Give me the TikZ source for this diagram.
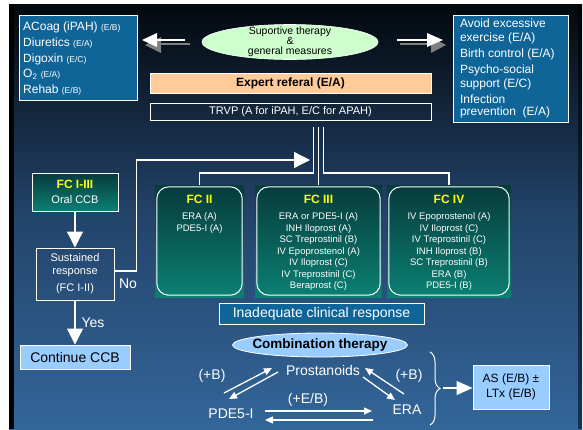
\documentclass[tikz,border=0pt]{standalone}
\usepackage{fontspec}
\setmainfont{Liberation Sans}
\usetikzlibrary{arrows.meta,shapes.geometric,decorations.pathreplacing}
\definecolor{boxblue}{HTML}{0F6498}
\definecolor{lightblue}{HTML}{99CCFF}
\definecolor{peach}{HTML}{FFCC99}
\definecolor{mint}{HTML}{CCFFCC}
\definecolor{fctop}{HTML}{073B3C}
\definecolor{fcbot}{HTML}{0B8073}
\definecolor{bgtop}{HTML}{03080D}
\definecolor{bgmid}{HTML}{23446B}
\definecolor{bgbot}{HTML}{336699}
\definecolor{fcyellow}{HTML}{FFFF00}
\definecolor{shadowgrey}{HTML}{7F7F7F}
\begin{document}
\begin{tikzpicture}[x=1pt,y=-1pt,
  bluebox/.style={draw=white, line width=1pt, fill=boxblue, text=white, inner sep=0pt, align=left},
  conn/.style={draw=white, line width=1.3pt},
  bigtip/.style={-{Triangle[length=16pt,width=16pt]}},
  pairarrow/.style={draw=white, line width=1.3pt, -{Triangle[length=8pt,width=7pt]}},
  fcbox/.style={top color=fctop, bottom color=fcbot, draw=none, inner sep=0pt},
  fcinner/.style={draw=white, line width=1pt, rounded corners=12pt},
  fctitle/.style={text=fcyellow, font=\bfseries\fontsize{12}{14}\selectfont, inner sep=0pt},
  fcitems/.style={text=white, font=\fontsize{9.5}{11.5}\selectfont, align=center, inner sep=0pt},
  wlabel/.style={text=white, font=\fontsize{14}{16}\selectfont, inner sep=0pt},
  careline/.style={text=white, font=\fontsize{12}{14}\selectfont, inner sep=0pt, anchor=west}
]
\fill[white] (0,0) rectangle (583,429);
\useasboundingbox (0,0) rectangle (583,429);
\shade[top color=bgtop, bottom color=bgbot, middle color=bgmid] (9,4) rectangle (582,429);
\fill[black] (9,4) rectangle (14,429);
\fill[black, opacity=0.5] (578,4) rectangle (582,429);

% top left box
\node[bluebox, minimum width=118pt, minimum height=85pt] (care) at (78,57.5) {};
\newcommand{\smallev}[1]{{\fontsize{8.5}{10}\selectfont #1}}
\node[careline] (c1) at (23,27) {ACoag (iPAH) \smallev{(E/B)}};
\node[careline] (c2) at (23,43) {Diuretics \smallev{(E/A)}};
\node[careline] (c3) at (23,59) {Digoxin \smallev{(E/C)}};
\node[careline] (c4) at (23,74.5) {O\textsubscript{2} \smallev{(E/A)}};
\node[careline] (c5) at (23,90) {Rehab \smallev{(E/B)}};

% top right box
\node[bluebox, minimum width=115pt, minimum height=107pt, text width=101pt] (prev) at (510.5,68.5)
 {\fontsize{12}{14}\selectfont Avoid excessive\\ exercise (E/A)\\[2pt] Birth control (E/A)\\[2pt]
  Psycho-social\\ support (E/C)\\[2pt] Infection\\ prevention\ \ (E/A)};

% ellipse
\node[ellipse, fill=mint, draw=white, line width=0.6pt, minimum width=176pt, minimum height=35pt, inner sep=0pt] (supp) at (290,42) {};
\node[align=center, inner sep=0pt, font=\fontsize{10.5}{10}\selectfont] (supptext) at (supp) {Suportive therapy\\\&\\general measures};

% top arrows
\fill[shadowgrey] (145,45) -- (161,37) -- (161,53) -- cycle;
\draw[shadowgrey, line width=1.5pt] (161,44) -- (190,44);
\fill[white] (142,40) -- (157,33) -- (157,47) -- cycle;
\draw[white, line width=1.5pt] (157,40) -- (185,40);
\fill[shadowgrey] (446,45) -- (431,37) -- (431,53) -- cycle;
\draw[shadowgrey, line width=1.5pt] (400,44) -- (431,44);
\fill[white] (443,40) -- (427,33) -- (427,47) -- cycle;
\draw[white, line width=1.5pt] (397,40) -- (427,40);

% expert and TRVP
\node[fill=peach, draw=white, line width=0.6pt, minimum width=281pt, minimum height=20pt, inner sep=0pt,
  font=\bfseries\fontsize{12}{14}\selectfont] (expert) at (290.5,83) {Expert referal (E/A)};
\node[draw=white, line width=1pt, minimum width=281pt, minimum height=17pt, inner sep=0pt, text=white,
  font=\fontsize{11}{13}\selectfont] (trvp) at (290.5,111.5) {TRVP (A for iPAH, E/C for APAH)};

% FC boxes
\node[fcbox, minimum width=89pt, minimum height=112pt] (fc2) at (199.5,241) {};
\node[fcbox, minimum width=127pt, minimum height=112pt] (fc3) at (318.5,241) {};
\node[fcbox, minimum width=124pt, minimum height=112pt] (fc4) at (449,241) {};
\foreach \b in {fc2,fc3,fc4}{
  \draw[fcinner] ([shift={(2pt,-2pt)}]\b.north west) rectangle ([shift={(-2pt,2pt)}]\b.south east);
}
\node[fctitle] (fc2t) at ([yshift=-15pt]fc2.north) {FC II};
\node[fctitle] (fc3t) at ([yshift=-15pt]fc3.north) {FC III};
\node[fctitle] (fc4t) at ([yshift=-15pt]fc4.north) {FC IV};
\node[fcitems, anchor=north] (fc2i) at ([yshift=-28pt]fc2.north) {ERA (A)\\PDE5-I (A)};
\node[fcitems, anchor=north] (fc3i) at ([yshift=-28pt]fc3.north)
 {ERA or PDE5-I (A)\\INH Iloprost (A)\\SC Treprostinil (B)\\IV Epoprostenol (A)\\IV Iloprost (C)\\IV Treprostinil (C)\\Beraprost (C)};
\node[fcitems, anchor=north] (fc4i) at ([yshift=-28pt]fc4.north)
 {IV Epoprostenol (A)\\IV Iloprost (C)\\IV Treprostinil (C)\\INH Iloprost (B)\\SC Treprostinil (B)\\ERA (B)\\PDE5-I (B)};

% TRVP connectors
\coordinate (t1) at (313.5,127);
\coordinate (t2) at (318.5,127);
\coordinate (t3) at (323.5,127);
\draw[conn] (t1) -- (313.5,173) -| (fc2.north);
\draw[conn] (t2) -- (fc3.north);
\draw[conn] (t3) -- (323.5,173) -| (fc4.north);

% left flow
\node[draw=white, line width=1pt, top color=fctop, bottom color=fcbot, minimum width=86pt, minimum height=38pt,
  inner sep=0pt, align=center, text=white] (fc13) at (75,192)
 {{\color{fcyellow}\bfseries\fontsize{12}{14}\selectfont FC I-III}\\[3pt]{\fontsize{11}{13}\selectfont Oral CCB}};
\node[draw=white, line width=1pt, minimum width=78pt, minimum height=52pt, inner sep=0pt, text=white, align=center,
  font=\fontsize{11}{13}\selectfont] (sus) at (75,274) {Sustained\\response\\[4pt](FC I-II)};
\node[fill=lightblue, draw=white, line width=1pt, minimum width=110pt, minimum height=24pt, inner sep=0pt,
  font=\fontsize{14}{16}\selectfont] (ccb) at (75,357) {Continue CCB};
\draw[conn, bigtip] (fc13.south) -- (sus.north);
\draw[conn, bigtip] (sus.south) -- node[wlabel, right=6pt] (yes) {Yes} (ccb.north);
\node[wlabel] (no) at (128,284) {No};
\coordinate (notip) at (310,160);
\draw[conn, bigtip] ([yshift=3pt]sus.east) -- ++(22,0) |- (notip);

% inadequate
\node[fill=boxblue, draw=white, line width=1pt, minimum width=205pt, minimum height=21pt, inner sep=0pt, text=white,
  font=\fontsize{14}{16}\selectfont] (inad) at (321.5,313.5) {Inadequate clinical response};

% combination
\node[ellipse, fill=lightblue, draw=white, line width=0.8pt, minimum width=175pt, minimum height=24pt, inner sep=0pt] (comb) at (320,345) {};
\node[inner sep=0pt, font=\bfseries\fontsize{13.5}{15}\selectfont] (combt) at (comb) {Combination therapy};

\node[wlabel] (pros) at (323,370) {Prostanoids};
\node[wlabel] (pde) at (231,414) {PDE5-I};
\node[wlabel] (era) at (407,410) {ERA};
\node[wlabel] (bl) at (212,376) {(+B)};
\node[wlabel] (br) at (409,376) {(+B)};
\node[wlabel] (eb) at (308,400) {(+E/B)};

\coordinate (a1s) at (224,393); \coordinate (a1e) at (272,368);
\coordinate (a2s) at (278,372); \coordinate (a2e) at (229,399);
\coordinate (a3s) at (363,377); \coordinate (a3e) at (395,400);
\coordinate (a4s) at (404,394); \coordinate (a4e) at (365,368);
\coordinate (a5s) at (265,411); \coordinate (a5e) at (372,411);
\coordinate (a6s) at (373,420); \coordinate (a6e) at (265,420);
\draw[pairarrow] (a1s) -- (a1e);
\draw[pairarrow] (a2s) -- (a2e);
\draw[pairarrow] (a3s) -- (a3e);
\draw[pairarrow] (a4s) -- (a4e);
\draw[pairarrow] (a5s) -- (a5e);
\draw[pairarrow] (a6s) -- (a6e);

% brace and AS box
\coordinate (brtop) at (430,352);
\coordinate (brbot) at (430,425);
\draw[white, line width=1pt, decorate, decoration={brace, amplitude=10pt}] (brtop) -- (brbot);
\node[fill=lightblue, draw=white, line width=1pt, minimum width=76pt, minimum height=44pt, inner sep=0pt, align=center,
  font=\fontsize{12}{15}\selectfont] (as) at (511,387) {AS (E/B) ±\\LTx (E/B)};
\coordinate (brtip) at (443,388);
\draw[conn, -{Triangle[length=16pt,width=14pt]}] (brtip) -- (as.west |- brtip);
\end{tikzpicture}
\end{document}
